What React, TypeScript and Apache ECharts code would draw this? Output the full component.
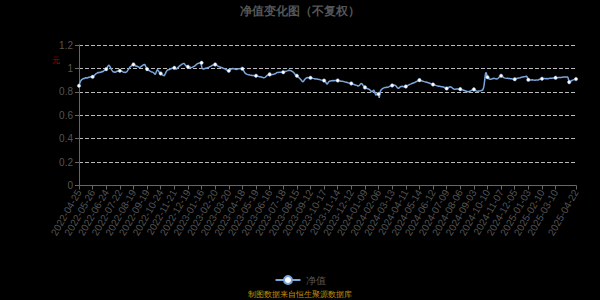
import React, { useEffect, useRef } from "react";
import * as echarts from "echarts";

// Trading calendar of the fund's NAV series
const startDate = "2022-04-25";
const endDate = "2025-04-22";
const closedDays = [
  "2022-05-02", "2022-05-03", "2022-05-04", "2022-06-03", "2022-09-12",
  "2022-10-03", "2022-10-04", "2022-10-05", "2022-10-06", "2022-10-07",
  "2023-01-02", "2023-01-23", "2023-01-24", "2023-01-25", "2023-01-26", "2023-01-27",
  "2023-04-05", "2023-05-01", "2023-05-02", "2023-05-03", "2023-06-22", "2023-06-23",
  "2023-09-29", "2023-10-02", "2023-10-03", "2023-10-04", "2023-10-05", "2023-10-06",
  "2024-01-01", "2024-02-09", "2024-02-12", "2024-02-13", "2024-02-14", "2024-02-15", "2024-02-16",
  "2024-04-04", "2024-04-05", "2024-05-01", "2024-05-02", "2024-05-03", "2024-06-10",
  "2024-09-16", "2024-09-17", "2024-10-01", "2024-10-02", "2024-10-03", "2024-10-04", "2024-10-07",
  "2025-01-01", "2025-01-28", "2025-01-29", "2025-01-30", "2025-01-31", "2025-02-03", "2025-02-04",
  "2025-04-04",
];
// period-end dates on which a NAV was published although markets were closed
const extraNavDays = ["2022-12-31", "2023-09-30", "2023-12-31", "2024-03-31", "2024-06-30"];

// 单位净值 (daily)
const navValues = [
  0.852, 0.871, 0.889, 0.897, 0.905, 0.909, 0.912, 0.915, 0.913, 0.918, 0.92, 0.921, 0.918, 0.922, 0.925, 0.923, 0.926, 0.929, 0.925, 0.927,
  0.928, 0.932, 0.938, 0.944, 0.949, 0.955, 0.958, 0.962, 0.966, 0.963, 0.966, 0.968, 0.965, 0.97, 0.974, 0.971, 0.977, 0.982, 0.985, 0.99,
  0.994, 1.003, 1.015, 1.024, 1.028, 1.02, 1.01, 0.998, 0.988, 0.979, 0.972, 0.968, 0.97, 0.966, 0.968, 0.973, 0.977, 0.975, 0.979, 0.982,
  0.98, 0.978, 0.975, 0.977, 0.972, 0.969, 0.966, 0.968, 0.964, 0.963, 0.97, 0.978, 0.988, 0.996, 1.004, 1.014, 1.018, 1.022, 1.027, 1.031,
  1.034, 1.03, 1.026, 1.022, 1.018, 1.02, 1.016, 1.014, 1.01, 1.008, 1.011, 1.015, 1.02, 1.024, 1.028, 1.031, 1.034, 1.03, 1.018, 1.004,
  0.994, 0.99, 0.986, 0.982, 0.978, 0.975, 0.972, 0.97, 0.968, 0.966, 0.96, 0.955, 0.949, 0.962, 0.978, 0.991, 0.984, 0.975, 0.968, 0.962,
  0.957, 0.952, 0.947, 0.943, 0.94, 0.937, 0.946, 0.958, 0.97, 0.98, 0.985, 0.99, 0.988, 0.993, 0.997, 0.995, 1.0, 1.003, 1.001, 1.004,
  1.005, 1.0, 0.996, 0.994, 0.999, 1.005, 1.011, 1.017, 1.022, 1.027, 1.031, 1.035, 1.039, 1.041, 1.043, 1.038, 1.03, 1.024, 1.019, 1.016,
  1.014, 1.012, 1.01, 1.011, 1.009, 1.007, 1.008, 1.011, 1.015, 1.018, 1.02, 1.026, 1.031, 1.036, 1.04, 1.043, 1.044, 1.046, 1.045, 1.047,
  1.048, 0.996, 0.998, 0.995, 0.997, 0.999, 1.001, 1.0, 1.003, 1.006, 1.009, 1.011, 1.014, 1.017, 1.02, 1.024, 1.027, 1.03, 1.029, 1.032,
  1.034, 1.031, 1.028, 1.024, 1.02, 1.017, 1.014, 1.012, 1.01, 1.008, 1.006, 1.003, 1.001, 1.0, 0.998, 0.995, 0.99, 0.986, 0.983, 0.981,
  0.98, 0.984, 0.988, 0.991, 0.995, 0.997, 0.999, 1.0, 0.997, 0.994, 0.992, 0.99, 0.991, 0.994, 0.997, 0.996, 0.998, 1.0, 0.999, 0.998,
  0.997, 0.99, 0.979, 0.968, 0.96, 0.955, 0.952, 0.949, 0.947, 0.945, 0.946, 0.943, 0.944, 0.942, 0.94, 0.941, 0.939, 0.94, 0.938, 0.939,
  0.937, 0.936, 0.934, 0.933, 0.931, 0.93, 0.929, 0.928, 0.926, 0.924, 0.923, 0.921, 0.92, 0.922, 0.927, 0.933, 0.938, 0.942, 0.946, 0.948,
  0.949, 0.947, 0.945, 0.946, 0.948, 0.949, 0.951, 0.953, 0.955, 0.957, 0.961, 0.966, 0.967, 0.965, 0.967, 0.966, 0.968, 0.969, 0.967, 0.968,
  0.968, 0.97, 0.972, 0.974, 0.976, 0.977, 0.979, 0.981, 0.984, 0.985, 0.983, 0.981, 0.978, 0.975, 0.972, 0.966, 0.96, 0.953, 0.946, 0.941,
  0.937, 0.932, 0.926, 0.921, 0.916, 0.91, 0.903, 0.896, 0.888, 0.886, 0.893, 0.901, 0.909, 0.914, 0.918, 0.921, 0.923, 0.921, 0.922, 0.921,
  0.92, 0.918, 0.919, 0.917, 0.915, 0.914, 0.912, 0.911, 0.909, 0.91, 0.909, 0.907, 0.908, 0.905, 0.904, 0.902, 0.903, 0.9, 0.899, 0.897,
  0.896, 0.893, 0.887, 0.876, 0.865, 0.87, 0.879, 0.886, 0.891, 0.893, 0.892, 0.895, 0.894, 0.896, 0.897, 0.895, 0.897, 0.898, 0.896, 0.897,
  0.897, 0.896, 0.894, 0.895, 0.893, 0.891, 0.892, 0.89, 0.889, 0.887, 0.886, 0.884, 0.885, 0.882, 0.88, 0.878, 0.879, 0.876, 0.874, 0.873,
  0.872, 0.869, 0.866, 0.864, 0.862, 0.86, 0.859, 0.857, 0.855, 0.852, 0.849, 0.85, 0.856, 0.863, 0.869, 0.872, 0.866, 0.858, 0.849, 0.843,
  0.838, 0.834, 0.831, 0.828, 0.826, 0.825, 0.822, 0.818, 0.812, 0.806, 0.8, 0.803, 0.81, 0.815, 0.802, 0.786, 0.772, 0.777, 0.782, 0.775,
  0.781, 0.748, 0.792, 0.81, 0.818, 0.824, 0.828, 0.831, 0.834, 0.836, 0.835, 0.837, 0.839, 0.838, 0.84, 0.843, 0.846, 0.849, 0.852, 0.854,
  0.855, 0.857, 0.859, 0.858, 0.856, 0.853, 0.848, 0.84, 0.833, 0.829, 0.832, 0.838, 0.843, 0.846, 0.845, 0.847, 0.846, 0.844, 0.845, 0.846,
  0.846, 0.848, 0.852, 0.855, 0.858, 0.861, 0.864, 0.866, 0.868, 0.871, 0.874, 0.876, 0.878, 0.88, 0.883, 0.886, 0.889, 0.892, 0.895, 0.898,
  0.9, 0.899, 0.897, 0.895, 0.893, 0.891, 0.889, 0.887, 0.886, 0.884, 0.883, 0.881, 0.879, 0.877, 0.875, 0.873, 0.871, 0.869, 0.867, 0.865,
  0.863, 0.861, 0.859, 0.857, 0.855, 0.853, 0.852, 0.85, 0.848, 0.847, 0.848, 0.846, 0.845, 0.844, 0.845, 0.842, 0.839, 0.836, 0.833, 0.831,
  0.829, 0.832, 0.835, 0.838, 0.841, 0.843, 0.843, 0.84, 0.835, 0.83, 0.826, 0.823, 0.821, 0.822, 0.824, 0.823, 0.825, 0.824, 0.822, 0.823,
  0.823, 0.821, 0.819, 0.817, 0.815, 0.813, 0.811, 0.809, 0.807, 0.805, 0.803, 0.801, 0.8, 0.802, 0.805, 0.808, 0.811, 0.814, 0.817, 0.819,
  0.821, 0.816, 0.812, 0.809, 0.807, 0.806, 0.805, 0.806, 0.808, 0.807, 0.809, 0.811, 0.813, 0.815, 0.83, 0.858, 0.905, 0.952, 0.966, 0.945,
  0.925, 0.918, 0.912, 0.909, 0.907, 0.908, 0.91, 0.912, 0.914, 0.913, 0.915, 0.913, 0.911, 0.912, 0.91, 0.913, 0.918, 0.924, 0.929, 0.934,
  0.937, 0.934, 0.93, 0.926, 0.922, 0.919, 0.917, 0.916, 0.915, 0.914, 0.915, 0.913, 0.912, 0.913, 0.911, 0.91, 0.911, 0.909, 0.91, 0.908,
  0.908, 0.91, 0.912, 0.914, 0.916, 0.917, 0.919, 0.92, 0.921, 0.922, 0.924, 0.925, 0.927, 0.926, 0.928, 0.93, 0.931, 0.933, 0.93, 0.915,
  0.903, 0.904, 0.902, 0.903, 0.901, 0.902, 0.903, 0.902, 0.9, 0.901, 0.899, 0.9, 0.902, 0.901, 0.9, 0.903, 0.905, 0.907, 0.909, 0.911,
  0.912, 0.911, 0.913, 0.912, 0.914, 0.913, 0.912, 0.914, 0.913, 0.912, 0.913, 0.915, 0.914, 0.916, 0.915, 0.917, 0.916, 0.918, 0.919, 0.918,
  0.92, 0.919, 0.921, 0.92, 0.922, 0.921, 0.923, 0.922, 0.923, 0.924, 0.925, 0.924, 0.926, 0.925, 0.927, 0.928, 0.927, 0.928, 0.926, 0.905,
  0.883, 0.886, 0.89, 0.894, 0.897, 0.9, 0.902, 0.904, 0.906, 0.907, 0.909,
];

const titleText = "净值变化图（不复权）";
const seriesName = "净值";
const yAxisName = "元";
const sourceText = "制图数据来自恒生聚源数据库";
const yMin = 0;
const yMax = 1.2;
const yStep = 0.2;

function pad(n: number) {
  return n < 10 ? "0" + n : "" + n;
}

function buildDates(): string[] {
  const closed = new Set(closedDays);
  const extra = new Set(extraNavDays);
  const out: string[] = [];
  const d = new Date(startDate + "T00:00:00Z");
  const end = new Date(endDate + "T00:00:00Z");
  while (d.getTime() <= end.getTime()) {
    const s = d.getUTCFullYear() + "-" + pad(d.getUTCMonth() + 1) + "-" + pad(d.getUTCDate());
    const wd = d.getUTCDay();
    if ((wd !== 0 && wd !== 6 && !closed.has(s)) || extra.has(s)) out.push(s);
    d.setUTCDate(d.getUTCDate() + 1);
  }
  return out;
}

const dates = buildDates();

export default function App() {
  const ref = useRef<HTMLDivElement>(null);
  useEffect(() => {
    if (!ref.current) return;
    const chart = echarts.init(ref.current, null, { renderer: "svg" });
    chart.setOption({
      animation: false,
      backgroundColor: "#000",
      title: {
        text: titleText,
        left: "center",
        top: 0,
        textStyle: { color: "#555", fontSize: 12, fontWeight: "bold" },
      },
      grid: { left: 79, right: 24, top: 45, bottom: 114.5, containLabel: false },
      legend: {
        top: 270,
        left: "center",
        data: [seriesName],
        itemWidth: 25,
        itemHeight: 10,
        itemGap: 5,
        textStyle: { color: "#555", fontSize: 10 },
      },
      graphic: [
        {
          type: "text",
          left: "center",
          top: 290,
          style: { text: sourceText, fill: "#c0900a", fontSize: 8 },
        },
        {
          type: "text",
          x: 52,
          y: 56,
          style: { text: yAxisName, fill: "#a00", fontSize: 8 },
        },
      ],
      xAxis: {
        type: "category",
        data: dates,
        boundaryGap: false,
        axisLine: { lineStyle: { color: "#666" } },
        axisTick: { show: true, interval: 19, length: 4, lineStyle: { color: "#666" } },
        axisLabel: {
          interval: 19,
          showMaxLabel: true,
          rotate: 60,
          color: "#555",
          fontSize: 10,
          margin: 5,
        },
        splitLine: { show: false },
      },
      yAxis: {
        type: "value",
        min: yMin,
        max: yMax,
        interval: yStep,
        axisLine: { show: true, lineStyle: { color: "#666" } },
        axisTick: { show: true, length: 4, lineStyle: { color: "#666" } },
        axisLabel: { color: "#555", fontSize: 10, margin: 6 },
        splitLine: { show: true, lineStyle: { color: "#bbb", type: "dashed" } },
      },
      series: [
        {
          name: seriesName,
          type: "line",
          data: navValues,
          symbol: "circle",
          symbolSize: 3.5,
          lineStyle: { color: "#7aa6dc", width: 1.5 },
          itemStyle: { color: "#fff", borderColor: "#7aa6dc", borderWidth: 0.5 },
        },
      ],
    });
    return () => chart.dispose();
  }, []);
  return (
    <div
      ref={ref}
      style={{ position: "absolute", left: 0, top: 0, width: 600, height: 300 }}
    />
  );
}
